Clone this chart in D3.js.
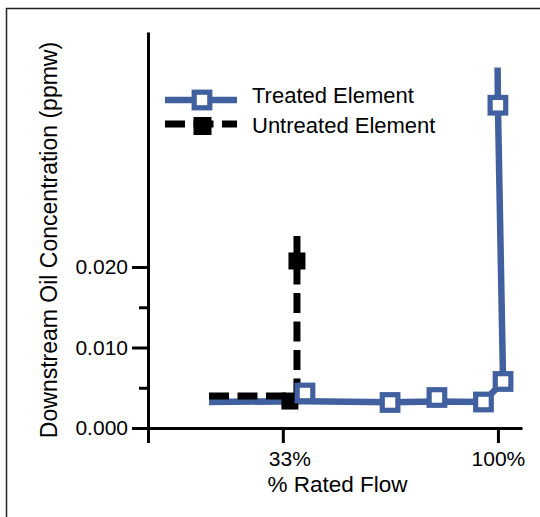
<!DOCTYPE html>
<html>
<head>
<meta charset="utf-8">
<script src="https://cdn.jsdelivr.net/npm/d3@7"></script>
<style>
  html, body { margin: 0; padding: 0; background: #fff; }
  svg { display: block; font-family: "Liberation Sans", Arial, Helvetica, sans-serif; }
  .tick text { font-size: 21px; font-family: "Liberation Sans", Arial, sans-serif; fill: #000; }
</style>
</head>
<body>
<svg id="chart" width="540" height="517"></svg>
<script>
// ---- data (x: % rated flow, y: ppmw) ----
const xTicks = [-9, 33, 100];
const xTickLabels = ["", "33%", "100%"];
const yMajorTicks = [0, 0.010, 0.020];
const yMinorTicks = [0.005, 0.015];

const treatedLine = [
  [10.0, 0.00323], [39.9, 0.00333], [66.4, 0.00320], [81.0, 0.00328],
  [95.5, 0.00323], [101.6, 0.00578], [100.0, 0.0401], [99.9, 0.0448]
];
const treatedMarkers = [
  [39.9, 0.00435], [66.4, 0.00317], [81.0, 0.00379],
  [95.5, 0.00323], [101.6, 0.00578], [100.0, 0.0401]
];
const untreatedLine = [
  [10.0, 0.00398], [37.4, 0.00398], [37.4, 0.0241]
];
const untreatedMarkers = [
  [35.2, 0.00335], [37.4, 0.02075]
];
const seriesNames = ["Treated Element", "Untreated Element"];

// ---- drawing ----
const blue = "#4160a0";
const svg = d3.select("#chart");

svg.append("rect")
  .attr("x", 6.5).attr("y", 8.5).attr("width", 560).attr("height", 540)
  .attr("fill", "none").attr("stroke", "#222").attr("stroke-width", 1.5);

const x = d3.scaleLinear().domain([-9, 107.5]).range([148, 522]);
const y = d3.scaleLinear().domain([0, 0.0492]).range([428, 32]);

// y axis
svg.append("g").attr("transform", "translate(148,0)")
  .call(d3.axisLeft(y).tickValues(yMajorTicks).tickFormat(d3.format(".3f"))
        .tickSize(16).tickSizeOuter(0).tickPadding(4));
svg.append("g").attr("transform", "translate(148,0)")
  .call(d3.axisLeft(y).tickValues(yMinorTicks).tickFormat("").tickSize(9).tickSizeOuter(0))
  .select(".domain").remove();

// x axis
const xAxis = svg.append("g").attr("transform", "translate(0,428)")
  .call(d3.axisBottom(x).tickValues(xTicks).tickFormat((d, i) => xTickLabels[i])
        .tickSize(15).tickSizeOuter(0).tickPadding(8));
xAxis.selectAll(".tick text").attr("dx", (d, i) => i === 1 ? 6.5 : 0);

svg.selectAll("g").attr("font-size", null).attr("font-family", null);
svg.selectAll(".domain, .tick line").attr("stroke", "#000").attr("stroke-width", 3);

// axis titles
svg.append("text").attr("x", 337.5).attr("y", 492).attr("text-anchor", "middle")
  .style("font-size", "22.5px").text("% Rated Flow");
svg.append("text").attr("transform", "translate(57,240) rotate(-90)")
  .attr("text-anchor", "middle").style("font-size", "23px")
  .text("Downstream Oil Concentration (ppmw)");

const line = d3.line().x(d => x(d[0])).y(d => y(d[1]));

// treated line
svg.append("path").datum(treatedLine).attr("d", line)
  .attr("fill", "none").attr("stroke", blue).attr("stroke-width", 6.5)
  .attr("stroke-linejoin", "miter");

// untreated line
svg.append("path").datum(untreatedLine).attr("d", line)
  .attr("fill", "none").attr("stroke", "#000").attr("stroke-width", 7)
  .attr("stroke-dasharray", "20,8.5");

svg.selectAll(".umark").data(untreatedMarkers).enter().append("rect")
  .attr("class", "umark")
  .attr("x", d => x(d[0]) - 8.5).attr("y", d => y(d[1]) - 8.5)
  .attr("width", 17).attr("height", 17).attr("fill", "#000");

svg.selectAll(".tmark").data(treatedMarkers).enter().append("rect")
  .attr("class", "tmark")
  .attr("x", d => x(d[0]) - 7.8).attr("y", d => y(d[1]) - 7.8)
  .attr("width", 15.6).attr("height", 15.6)
  .attr("fill", "#fff").attr("stroke", blue).attr("stroke-width", 5.2);

// legend
const lg = svg.append("g");
lg.append("line").attr("x1", 165).attr("x2", 237).attr("y1", 100).attr("y2", 100)
  .attr("stroke", blue).attr("stroke-width", 6.5);
lg.append("rect").attr("x", 202 - 7.8).attr("y", 100 - 7.8).attr("width", 15.6).attr("height", 15.6)
  .attr("fill", "#fff").attr("stroke", blue).attr("stroke-width", 5.2);
lg.append("line").attr("x1", 165).attr("x2", 237).attr("y1", 124).attr("y2", 124)
  .attr("stroke", "#000").attr("stroke-width", 7).attr("stroke-dasharray", "20,8.5");
lg.append("rect").attr("x", 202.5 - 9).attr("y", 126 - 9).attr("width", 18).attr("height", 18)
  .attr("fill", "#000");
lg.selectAll("text").data(seriesNames).enter().append("text")
  .attr("x", 252).attr("y", (d, i) => 103 + i * 30)
  .style("font-size", "22px").attr("fill", "#000").text(d => d);
</script>
</body>
</html>
